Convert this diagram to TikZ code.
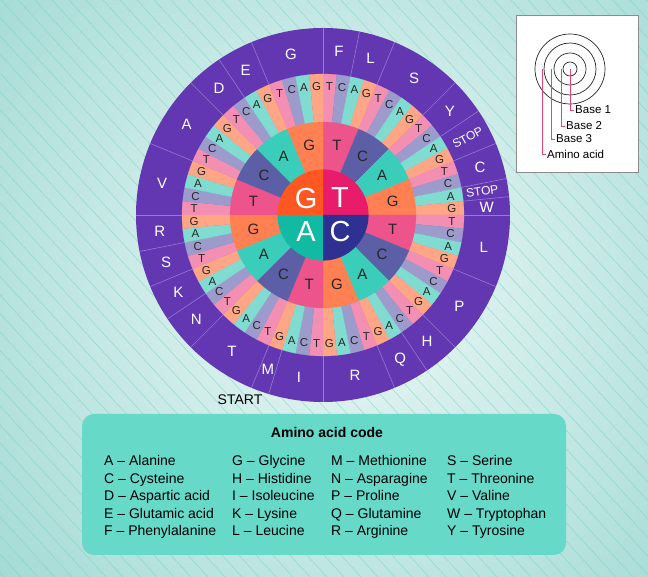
\documentclass[tikz,border=0pt]{standalone}
\usepackage{fontspec}
\setmainfont{Liberation Sans}
\definecolor{WheelPurple}{RGB}{99,54,178}
\definecolor{WheelLine}{RGB}{150,122,212}
\definecolor{FirstG}{RGB}{255,87,34}
\definecolor{FirstT}{RGB}{232,28,106}
\definecolor{FirstA}{RGB}{18,186,164}
\definecolor{FirstC}{RGB}{46,49,146}
\definecolor{SecondT}{RGB}{238,84,140}
\definecolor{SecondC}{RGB}{92,94,166}
\definecolor{SecondA}{RGB}{58,205,185}
\definecolor{SecondG}{RGB}{255,128,82}
\definecolor{ThirdT}{RGB}{243,143,178}
\definecolor{ThirdC}{RGB}{156,155,204}
\definecolor{ThirdA}{RGB}{128,220,208}
\definecolor{ThirdG}{RGB}{255,166,134}
\definecolor{CodeTeal}{RGB}{102,217,201}
\definecolor{BgTeal}{RGB}{155,215,209}
\definecolor{BgLight}{RGB}{238,249,247}
\definecolor{StripeTeal}{RGB}{120,210,198}
\definecolor{KeyPink}{RGB}{232,64,122}
\usetikzlibrary{positioning}

\begin{document}
\begin{tikzpicture}[x=1pt,y=1pt,
	third/.style={font=\fontsize{11.5}{13}\selectfont,text=black!85,inner sep=0pt},
	second/.style={font=\fontsize{15}{17}\selectfont,text=black!85,inner sep=0pt},
	first/.style={font=\fontsize{29}{31}\selectfont,text=white,inner sep=0pt},
	amino/.style={font=\fontsize{15}{17}\selectfont,text=white,inner sep=0pt},
	stopsign/.style={font=\fontsize{12}{14}\selectfont},
	keylabel/.style={font=\fontsize{11.5}{13}\selectfont,anchor=west,inner sep=1pt},
	entry/.style={font=\fontsize{14}{16}\selectfont,anchor=base west,inner sep=0pt}]
\useasboundingbox (0,0) rectangle (648,577);
\begin{scope}
\clip (0,0) rectangle (648,577);
\shade[inner color=BgLight,outer color=BgTeal] (350,300) circle (520);
\foreach \k in {-560,-543,...,660}
	\draw[StripeTeal,line width=0.6pt,opacity=0.6] (\k,577) -- ++(530,-577);
\end{scope}

\begin{scope}[shift={(323,362)}]
\fill[WheelPurple] (0,0) circle (187);
\foreach \a [count=\i from 0] in {T,C,A,G}
	\foreach \b [count=\j from 0] in {T,C,A,G}
		\foreach \c [count=\k from 0] in {T,C,A,G} {
			\pgfmathsetmacro\s{90-90*\i-22.5*\j-5.625*\k}
			\fill[Third\c,draw=Third\c,line width=0.2pt] (0,0) -- (\s:141) arc[start angle=\s,delta angle=-5.625,radius=141] -- cycle;
			\node[third] (b3-\a\b\c) at (\s-2.8125:129) {\c};
		}
\foreach \a [count=\i from 0] in {T,C,A,G}
	\foreach \b [count=\j from 0] in {T,C,A,G} {
		\pgfmathsetmacro\s{90-90*\i-22.5*\j}
		\fill[Second\b,draw=Second\b,line width=0.2pt] (0,0) -- (\s:93) arc[start angle=\s,delta angle=-22.5,radius=93] -- cycle;
		\node[second] (b2-\a\b) at (\s-11.25:71) {\b};
	}
\foreach \a [count=\i from 0] in {T,C,A,G} {
	\pgfmathsetmacro\s{90-90*\i}
	\fill[First\a] (0,0) -- (\s:45.6) arc[start angle=\s,delta angle=-90,radius=45.6] -- cycle;
	\node[first] (b1-\a) at (\s-45:24) {\a};
}
\foreach \b in {0,2,4,8,10,12,14,15,16,20,24,26,28,32,35,36,40,42,44,46,48,52,56,58,60}
	\draw[WheelLine,line width=0.6pt] ({90-5.625*\b}:141) -- ({90-5.625*\b}:187);
\foreach \f/\t/\aa [count=\n] in {0/2/F,2/4/L,4/8/S,8/10/Y,12/14/C,15/16/W,16/20/L,20/24/P,24/26/H,26/28/Q,28/32/R,32/35/I,35/36/M,36/40/T,40/42/N,42/44/K,44/46/S,46/48/R,48/52/V,52/56/A,56/58/D,58/60/E,60/64/G} {
	\pgfmathsetmacro\m{90-5.625*(\f+\t)/2}
	\node[amino] (aa-\n) at (\m:164) {\aa};
}
\node[amino,stopsign,rotate=28.125] (stop-1) at (28.125:164) {STOP};
\node[amino,stopsign,rotate=8.4375] (stop-2) at (8.4375:161) {STOP};
\end{scope}
\node[font=\fontsize{14}{16}\selectfont,inner sep=0pt] (start) at (240,177) {START};

\draw[black!45,fill=white,line width=0.8pt] (516,405) rectangle (638,562);
\foreach \r in {7,16,26,35}
	\draw[black!85,line width=0.7pt] (570,508) circle (\r);
\foreach \x/\y/\lab [count=\n] in {570/467/Base 1,561/451/Base 2,551/438/Base 3,542/423/Amino acid} {
	\coordinate (ring-\n) at (\x,508);
	\node[keylabel] (key-\n) at (\x+4,\y) {\lab};
	\draw[KeyPink,line width=0.7pt] (ring-\n) |- (key-\n.west);
}

\node[fill=CodeTeal,rounded corners=12pt,minimum width=484,minimum height=141] (codebox) at (324,92.5) {};
\node[font=\bfseries\fontsize{14}{16}\selectfont,inner sep=0pt] (codetitle) at (327,144) {Amino acid code};
\foreach \x/\list [count=\c] in {104/{A – Alanine,C – Cysteine,D – Aspartic acid,E – Glutamic acid,F – Phenylalanine},
	232/{G – Glycine,H – Histidine,I – Isoleucine,K – Lysine,L – Leucine},
	331/{M – Methionine,N – Asparagine,P – Proline,Q – Glutamine,R – Arginine},
	447/{S – Serine,T – Threonine,V – Valine,W – Tryptophan,Y – Tyrosine}}
	\foreach \txt [count=\r] in \list
		\node[entry] (code-\c-\r) at (\x,128.5-17.5*\r) {\txt};
\end{tikzpicture}
\end{document}
